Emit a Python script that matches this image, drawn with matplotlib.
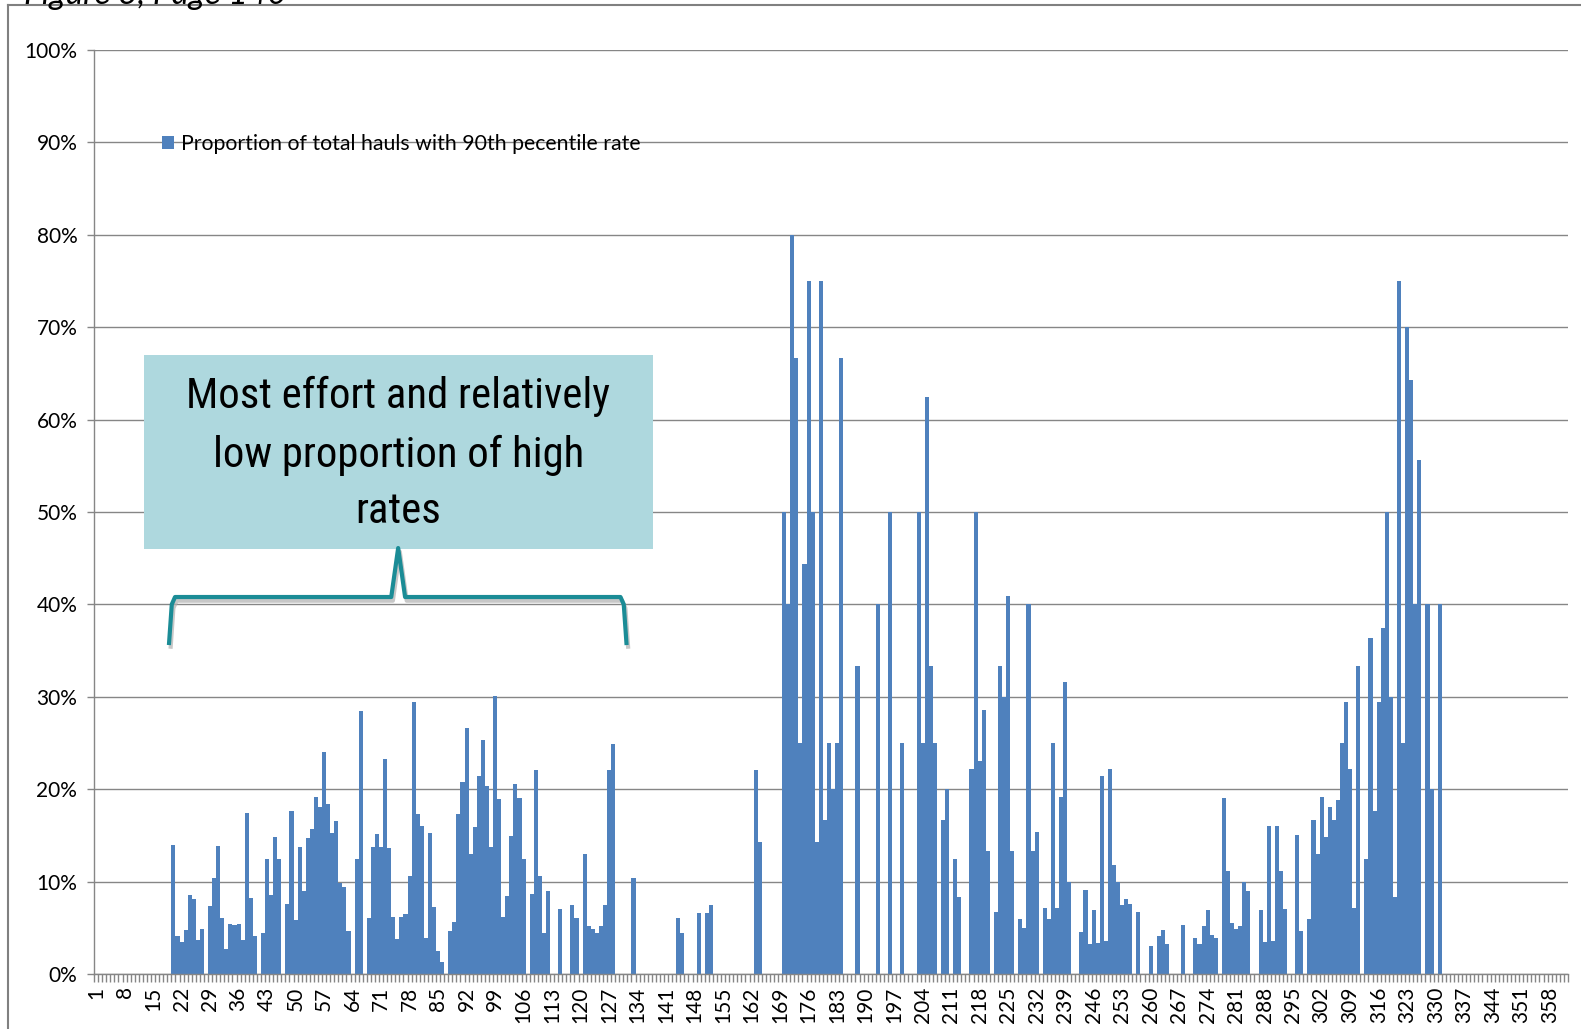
import matplotlib
matplotlib.use('Agg')
from matplotlib import pyplot as plt
from matplotlib import font_manager
from matplotlib.font_manager import FontProperties
from matplotlib.lines import Line2D
from matplotlib.patches import Rectangle
from matplotlib.ticker import PercentFormatter
import numpy as np


# category axis: day 1 .. 362, labels every 7th day
n_days = 362
label_days = list(range(1, n_days + 1, 7))

# proportion (%) of hauls with 90th percentile rate
# values start at day 20 and stop at day 331, every other day is empty
first_day = 20
share_pct = [
    14.0, 4.1, 3.5, 4.8, 8.6, 8.1, 3.7, 4.9, 0, 7.4,            # 20-29
    10.4, 13.8, 6.1, 2.7, 5.4, 5.3, 5.4, 3.7, 17.4, 8.2,        # 30-39
    4.1, 0, 4.4, 12.4, 8.6, 14.8, 12.4, 0, 7.6, 17.6,           # 40-49
    5.8, 13.7, 9.0, 14.7, 15.7, 19.2, 18.1, 24.0, 18.4, 15.3,   # 50-59
    16.6, 9.9, 9.4, 4.6, 0, 12.4, 28.5, 0, 6.1, 13.7,           # 60-69
    15.1, 13.7, 23.3, 13.6, 6.2, 3.8, 6.2, 6.5, 10.6, 29.4,     # 70-79
    17.3, 16.0, 3.9, 15.3, 7.2, 2.5, 1.3, 0, 4.7, 5.6,          # 80-89
    17.3, 20.8, 26.6, 13.0, 15.9, 21.4, 25.3, 20.4, 13.7, 30.1, # 90-99
    18.9, 6.2, 8.4, 14.9, 20.6, 19.1, 12.4, 0, 8.7, 22.1,       # 100-109
    10.6, 4.4, 9.0, 0, 0, 7.0, 0, 0, 7.5, 6.1,                  # 110-119
    0, 13.0, 5.2, 4.9, 4.4, 5.2, 7.5, 22.1, 24.9, 0,            # 120-129
    0, 0, 0, 10.4, 0, 0, 0, 0, 0, 0,                            # 130-139
    0, 0, 0, 0, 6.1, 4.4, 0, 0, 0, 6.6,                         # 140-149
    0, 6.6, 7.5, 0, 0, 0, 0, 0, 0, 0,                           # 150-159
    0, 0, 0, 22.1, 14.3, 0, 0, 0, 0, 0,                         # 160-169
    50, 40, 80, 66.7, 25, 44.4, 75, 50, 14.3, 75,               # 170-179
    16.7, 25, 20, 25, 66.7, 0, 0, 0, 33.3, 0,                   # 180-189
    0, 0, 0, 40, 0, 0, 50, 0, 0, 25,                            # 190-199
    0, 0, 0, 50, 25, 62.5, 33.3, 25, 0, 16.7,                   # 200-209
    20, 0, 12.5, 8.3, 0, 0, 22.2, 50, 23.1, 28.6,               # 210-219
    13.3, 0, 6.7, 33.3, 30, 40.9, 13.3, 0, 5.9, 5.0,            # 220-229
    40, 13.3, 15.4, 0, 7.1, 5.9, 25, 7.1, 19.2, 31.6,           # 230-239
    10, 0, 0, 4.5, 9.1, 3.3, 6.9, 3.4, 21.4, 3.6,               # 240-249
    22.2, 11.8, 10, 7.5, 8.1, 7.6, 0, 6.7, 0, 0,                # 250-259
    3.0, 0, 4.1, 4.8, 3.2, 0, 0, 0, 5.3, 0,                     # 260-269
    0, 3.9, 3.2, 5.2, 6.9, 4.2, 3.9, 0, 19.0, 11.1,             # 270-279
    5.5, 4.9, 5.2, 10, 9.0, 0, 0, 6.9, 3.5, 16.0,               # 280-289
    3.6, 16.0, 11.1, 7.0, 0, 0, 15.0, 4.7, 0, 5.9,              # 290-299
    16.7, 13.0, 19.2, 14.8, 18.1, 16.7, 18.8, 25, 29.4, 22.2,   # 300-309
    7.1, 33.3, 0, 12.5, 36.4, 17.6, 29.4, 37.5, 50, 30,         # 310-319
    8.3, 75, 25, 70, 64.3, 40, 55.6, 0, 40, 20,                 # 320-329
    0, 40,                                                      # 330-331
]

legend_label = 'Proportion of total hauls with 90th pecentile rate'
note_lines = ['Most effort and relatively', 'low proportion of high', 'rates']
fig_title = 'Figure 3, Page 140'

bar_color = '#4F81BD'
grid_color = '#868686'
note_color = '#AED8DE'
brace_color = '#1B8C96'

# full series over all days
days = np.arange(1, n_days + 1)
values = np.zeros(n_days)
values[first_day - 1:first_day - 1 + len(share_pct)] = np.array(share_pct) / 100

# fonts
installed = {f.name for f in font_manager.fontManager.ttflist}
base_font = 'Lato' if 'Lato' in installed else 'DejaVu Sans'
plt.rcParams['font.family'] = [base_font, 'DejaVu Sans']


def narrow_font_file():
    # the callout uses a narrow face; take the best one that is installed
    prefs = ['LiberationSansNarrow-Regular', 'RobotoCondensed-Regular', 'OpenSansCondensed',
             'NotoSansCondensed-Regular', 'DejaVuSansCondensed.']
    files = [f.fname for f in font_manager.fontManager.ttflist]
    for p in prefs:
        for fn in files:
            if p in fn:
                return fn
    return None


nf = narrow_font_file()
note_prop = FontProperties(fname=nf) if nf else FontProperties(family='Roboto')

W, H = 1581, 1029
fig = plt.figure(figsize=(W / 100, H / 100), dpi=100)
ax = fig.add_axes([94 / W, 1 - 974 / H, (1568 - 94) / W, (974 - 50) / H])

ax.bar(days, values, width=1.0, color=bar_color, linewidth=0, label=legend_label, zorder=2)

ax.set_xlim(0.5, n_days + 0.5)
ax.set_ylim(0, 1.0)

# y axis
ax.set_yticks(np.arange(0, 1.01, 0.1))
ax.yaxis.set_major_formatter(PercentFormatter(1.0, decimals=0))
ax.tick_params(axis='y', length=5, width=1, color=grid_color, pad=7, labelsize=15)
ax.grid(axis='y', color=grid_color, linewidth=1, zorder=0)
ax.set_axisbelow(True)

# x axis: tick marks between categories, labels every 7th day
ax.set_xticks(np.arange(0.5, n_days + 1, 1), minor=True)
ax.set_xticks(label_days)
ax.set_xticklabels([str(d) for d in label_days], rotation=90, fontsize=15)
ax.tick_params(axis='x', which='major', length=0, pad=9)
ax.tick_params(axis='x', which='minor', length=6, width=1, color=grid_color)

for side in ['top', 'right']:
    ax.spines[side].set_visible(False)
for side in ['left', 'bottom']:
    ax.spines[side].set_color(grid_color)
    ax.spines[side].set_linewidth(1)

# legend sitting on the 90% gridline
ax.legend(loc='center left', bbox_to_anchor=(162 / W, 1 - 144 / H), bbox_transform=fig.transFigure,
          frameon=False, fontsize=15.3, handlelength=0.55, handleheight=0.55, handletextpad=0.35,
          borderpad=0, borderaxespad=0)

# annotation box
ax.add_patch(Rectangle((12.7, 0.460), 125.0, 0.210, facecolor=note_color, edgecolor='none', zorder=4))
note_y = [0.6255, 0.5617, 0.501]
note_texts = []
for line, y in zip(note_lines, note_y):
    note_texts.append(ax.text(75.2, y, line, ha='center', va='center', fontproperties=note_prop,
                              fontsize=32, color='black', zorder=5))

# size the callout so the first line is as wide as in the source (about 425 px)
fig.canvas.draw()
w0 = note_texts[0].get_window_extent().width
size = min(34.0, 32 * 425 / w0)
for t in note_texts:
    t.set_fontsize(size)

# curly brace under the box
bx = [18.9, 19.6, 20.4, 73.5, 75.2, 76.9, 129.8, 130.6, 131.3]
by = [0.356, 0.400, 0.408, 0.408, 0.461, 0.408, 0.408, 0.400, 0.356]
ax.plot(np.array(bx) + 0.4, np.array(by) - 0.004, color='#b0b0b0', linewidth=3, zorder=3,
        solid_joinstyle='round', solid_capstyle='butt', alpha=0.7)
ax.plot(bx, by, color=brace_color, linewidth=3, zorder=4, solid_joinstyle='round', solid_capstyle='butt')

# outer chart frame (left and top edges visible)
fig.add_artist(Line2D([8 / W, 8 / W], [0, 1 - 5 / H], transform=fig.transFigure, color='#808080', linewidth=1.5))
fig.add_artist(Line2D([8 / W, 1], [1 - 5 / H, 1 - 5 / H], transform=fig.transFigure, color='#808080', linewidth=1.5))

# page caption, cut off by the top edge as in the source page
fig.text(24 / W, 1 - 4 / H, fig_title, style='italic', fontsize=24, va='baseline', ha='left')

fig.savefig('out.png', dpi=100)
